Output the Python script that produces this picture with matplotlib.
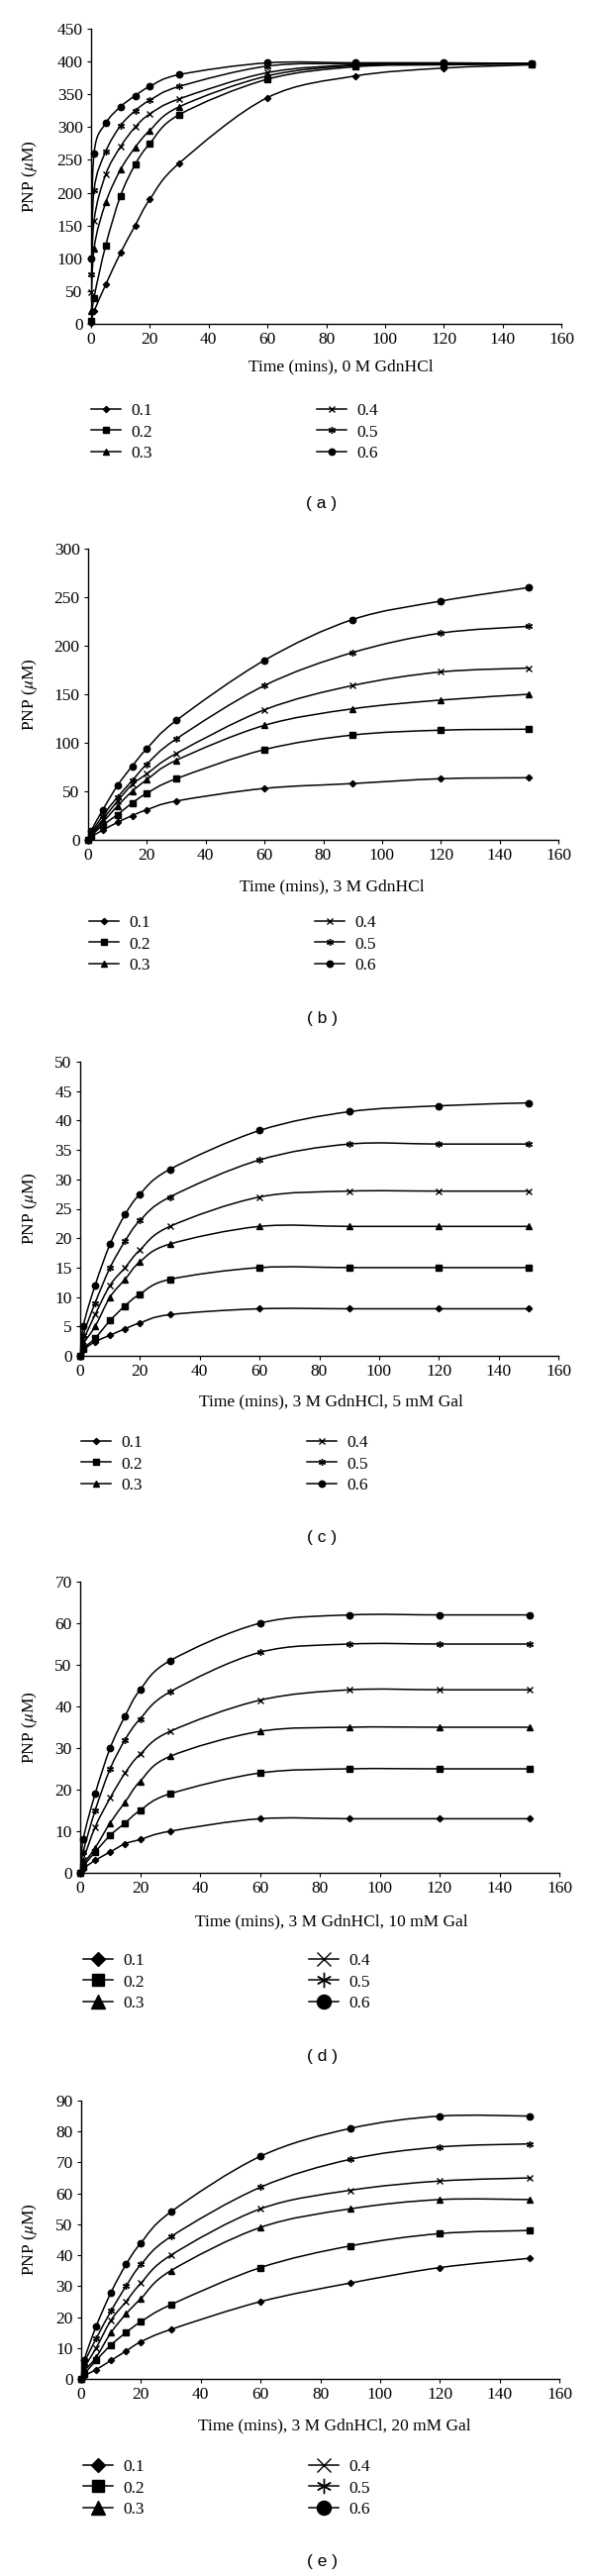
import numpy as np
import matplotlib
matplotlib.use("Agg")
import matplotlib.pyplot as plt
from matplotlib.path import Path
from matplotlib.patches import PathPatch
from matplotlib.lines import Line2D

plt.rcParams["font.family"] = ["Liberation Serif", "DejaVu Serif"]
plt.rcParams["mathtext.fontset"] = "stix"

time_min = [0, 1, 5, 10, 15, 20, 30, 60, 90, 120, 150]
series_labels = ["0.1", "0.2", "0.3", "0.4", "0.5", "0.6"]

# PNP (uM), one row per series 0.1 .. 0.6
pnp_0M = [
    [2, 19, 60, 108, 150, 190, 245, 345, 378, 390, 395],
    [5, 40, 120, 195, 243, 275, 319, 373, 392, 395, 396],
    [20, 115, 185, 235, 269, 295, 331, 378, 394, 396, 397],
    [48, 157, 228, 270, 300, 320, 343, 383, 395, 397, 397],
    [76, 204, 263, 302, 325, 341, 362, 393, 397, 397, 397],
    [100, 260, 306, 331, 348, 362, 380, 398, 398, 398, 397],
]
pnp_3M = [
    [0, 3, 10, 18, 25, 31, 40, 53, 58, 63, 64],
    [0, 4, 15, 26, 38, 48, 63, 93, 108, 113, 114],
    [0, 5, 18, 35, 50, 62, 82, 118, 135, 144, 150],
    [0, 6, 21, 40, 57, 68, 89, 134, 159, 173, 177],
    [0, 7, 25, 44, 61, 78, 104, 159, 193, 213, 220],
    [0, 9, 31, 56, 76, 94, 123, 185, 227, 246, 260],
]
pnp_5mM = [
    [0, 1, 2.4, 3.5, 4.6, 5.6, 7, 8, 8, 8, 8],
    [0, 1.2, 3, 6, 8.5, 10.5, 13, 15, 15, 15, 15],
    [0, 2, 5, 10, 13, 16, 19, 22, 22, 22, 22],
    [0, 2.5, 7, 12, 15, 18, 22, 27, 28, 28, 28],
    [0, 3.5, 9, 15, 19.5, 23, 27, 33.3, 36, 36, 36],
    [0, 5, 12, 19, 24, 27.5, 31.7, 38.3, 41.5, 42.5, 43],
]
pnp_10mM = [
    [0, 1, 3, 5, 7, 8, 10, 13, 13, 13, 13],
    [0, 1.5, 5, 9, 12, 15, 19, 24, 25, 25, 25],
    [0, 2, 6, 12, 17, 22, 28, 34, 35, 35, 35],
    [0, 3, 11, 18, 24, 28.5, 34, 41.5, 44, 44, 44],
    [0, 5, 15, 25, 32, 37, 43.5, 53, 55, 55, 55],
    [0, 8, 19, 30, 37.7, 44, 51, 60, 62, 62, 62],
]
pnp_20mM = [
    [0, 1, 3, 6, 9, 12, 16, 25, 31, 36, 39],
    [0, 1.5, 6, 11, 15, 18.5, 24, 36, 43, 47, 48],
    [0, 2.5, 7, 15, 21, 26, 35, 49, 55, 58, 58],
    [0, 3.5, 10, 19, 25, 31, 40, 55, 61, 64, 65],
    [0, 5, 13, 22, 30, 37, 46, 62, 71, 75, 76],
    [0, 6, 17, 28, 37, 44, 54, 72, 81, 85, 85],
]

x_titles = [
    "Time (mins), 0 M GdnHCl",
    "Time (mins), 3 M GdnHCl",
    "Time (mins), 3 M GdnHCl, 5 mM Gal",
    "Time (mins), 3 M GdnHCl, 10 mM Gal",
    "Time (mins), 3 M GdnHCl, 20 mM Gal",
]
panel_tags = ["( a )", "( b )", "( c )", "( d )", "( e )"]
y_max = [450, 300, 50, 70, 90]
y_step = [50, 50, 5, 10, 10]

markers = ["D", "s", "^", "x", (6, 2, 0), "o"]
msizes = [3.2, 4, 4.5, 4.5, 5, 4.6]

W, H = 600, 2601
# pixel layout: left, right, top, bottom of plot area
boxes = [
    (92, 567, 29, 327),
    (89, 564, 554, 848),
    (81, 564, 1072, 1369),
    (81, 565, 1597, 1891),
    (82, 565, 2121, 2402),
]
title_pos = [(344, 370), (335, 895), (334, 1415), (335, 1940), (338, 2449)]
legend_pos = [(92, 416), (90, 933), (82, 1458), (84, 1981), (84, 2492)]
tag_y = [508, 1028, 1553, 2077, 2587]
legend_scale = [1.0, 1.0, 1.0, 2.2, 2.2]


def smooth_path(x, y):
    pts = np.column_stack([x, y]).astype(float)
    n = len(pts)
    verts = [pts[0]]
    codes = [Path.MOVETO]
    for i in range(n - 1):
        p0 = pts[max(i - 1, 0)]
        p1 = pts[i]
        p2 = pts[i + 1]
        p3 = pts[min(i + 2, n - 1)]
        verts += [p1 + (p2 - p0) / 6, p2 - (p3 - p1) / 6, p2]
        codes += [Path.CURVE4] * 3
    return Path(verts, codes)


fig = plt.figure(figsize=(W / 100, H / 100), dpi=100)
panels = [pnp_0M, pnp_3M, pnp_5mM, pnp_10mM, pnp_20mM]

for k, data in enumerate(panels):
    l, r, t, b = boxes[k]
    ax = fig.add_axes([l / W, 1 - b / H, (r - l) / W, (b - t) / H])
    for j, vals in enumerate(data):
        ax.add_patch(PathPatch(smooth_path(time_min, vals), fill=False,
                               edgecolor="black", lw=1.1))
        ax.plot(time_min, vals, ls="none", marker=markers[j], ms=msizes[j],
                color="black", mew=1.0, clip_on=False, zorder=3)
    ax.set_xlim(0, 160)
    ax.set_ylim(0, y_max[k])
    ax.set_xticks(range(0, 161, 20))
    ax.set_yticks(np.arange(0, y_max[k] + 1, y_step[k]))
    for s in ["top", "right"]:
        ax.spines[s].set_visible(False)
    for s in ["left", "bottom"]:
        ax.spines[s].set_linewidth(1.0)
    ax.tick_params(direction="out", length=3, width=0.8, labelsize=12.5, pad=3)

    cx, cy = title_pos[k]
    fig.text(cx / W, 1 - cy / H, x_titles[k], ha="center", va="center", fontsize=12.5)
    fig.text(30 / W, 1 - (t + b) / 2 / H, "PNP ($\\mu$M)", rotation=90,
             ha="center", va="center", fontsize=12.5)
    fig.text(325 / W, 1 - tag_y[k] / H, panel_tags[k], ha="center", va="center",
             fontsize=12.5, family=["Liberation Sans", "DejaVu Sans"])

    handles = [Line2D([], [], color="black", lw=1.1, marker=markers[j],
                      ms=msizes[j], mew=1.0) for j in range(6)]
    lx, ly = legend_pos[k]
    fig.legend(handles, series_labels, ncol=2, loc="upper left",
               bbox_to_anchor=(lx / W, 1 - (ly - 9) / H), frameon=False,
               borderpad=0, borderaxespad=0, handlelength=1.7, handletextpad=0.6,
               columnspacing=9.6, labelspacing=0.3, fontsize=12.5,
               markerscale=legend_scale[k])

fig.savefig("out.png", dpi=100)
